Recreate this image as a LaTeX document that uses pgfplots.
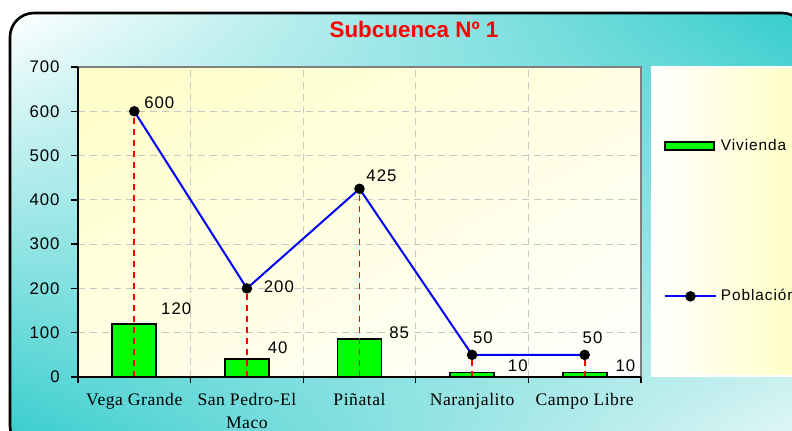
\documentclass[border=0pt]{standalone}
\usepackage{fontspec}
\setmainfont{Liberation Sans}
\newfontfamily\lsans[LetterSpace=6]{Liberation Sans}
\newfontfamily\lserif[LetterSpace=3]{Liberation Serif}
\usepackage{pgfplots}
\usepackage{pgfplotstable}
\usetikzlibrary{shadings}
\pgfplotsset{compat=1.18}

\definecolor{teal1}{HTML}{33CCCC}
\definecolor{tealpale}{HTML}{EAF8F8}
\definecolor{yelA}{HTML}{FFFFC8}
\definecolor{yelB}{HTML}{FFFFE4}
\definecolor{yelL}{HTML}{FFFFC0}
\definecolor{gridgray}{HTML}{C8C8C8}
\definecolor{dropred}{HTML}{FF0000}

\pgfplotsset{
  barlegend/.style={legend image code/.code={\draw[##1, line width=0.9pt] (0pt,-2pt) rectangle (24.5pt,2pt);}},
  linelegend/.style={legend image code/.code={\draw[mark repeat=2, mark phase=2, ##1]
    plot coordinates {(0pt,0pt) (12.75pt,0pt) (25.5pt,0pt)};}},
}

% x, Vivienda, Poblacion, label offsets (pt)
\pgfplotstableread{
x viv pop vdx vdy pdx pdy
0 120 600 13   4.5  4.5  1.5
1  40 200 10   3    8   -2
2  85 425 14.5 0.5  3    3.5
3  10  50 17.5 0.5  0    5.5
4  10  50 15   0.5 -1.5  5.5
}\datatab

\begin{document}
\begin{tikzpicture}
\useasboundingbox (0pt,0pt) rectangle (396pt,215pt);
\begin{scope}
\clip (0pt,0pt) rectangle (396pt,215pt);
\shade[rounded corners=12pt, upper left=white, upper right=teal1,
  lower left=teal1, lower right=tealpale] (5pt,208.5pt) rectangle (403pt,-10pt);
\draw[line width=1.3pt, rounded corners=12pt] (5pt,208.5pt) rectangle (403pt,-10pt);
\node[font=\bfseries\fontsize{11.2}{13}\selectfont, text=red] at (207pt,200.5pt) {Subcuenca Nº 1};

\begin{axis}[
  at={(39pt,26.5pt)}, anchor=south west,
  scale only axis, width=281.5pt, height=155pt,
  xmin=-0.5, xmax=4.5, ymin=0, ymax=700,
  xtick={0,...,4},
  xticklabels={Vega Grande,{San Pedro-El\\Maco},Piñatal,Naranjalito,Campo Libre},
  minor xtick={-0.5,0.5,...,4.5},
  ytick={0,100,...,700},
  tick pos=left,
  tick align=outside,
  major tick length=3.5pt, minor tick length=3pt,
  major x tick style={draw=none},
  tick style={black, line width=0.7pt},
  ymajorgrids, xminorgrids,
  grid style={gridgray, dash pattern=on 3.5pt off 2.5pt, line width=0.5pt},
  minor grid style={gridgray, dash pattern=on 3.5pt off 2.5pt, line width=0.5pt},
  axis line style={draw=none},
  /pgf/number format/assume math mode=true,
  yticklabel style={font=\lsans\fontsize{8.4}{10}\selectfont, inner sep=0pt, xshift=-5.5pt},
  xticklabel style={font=\lserif\fontsize{8.8}{11.5}\selectfont, align=center, inner sep=0pt, yshift=-4.3pt},
  axis background/.style={shade, upper left=yelA, upper right=yelB, lower left=yelB, lower right=white},
  legend style={at={(axis description cs:1,1)}, anchor=north west, xshift=5pt, yshift=0.5pt,
    draw=white, line width=1pt, left color=white, right color=yelL,
    inner xsep=6pt, inner ysep=34pt, row sep=64pt,
    font=\lsans\fontsize{7.7}{9}\selectfont},
  legend cell align=left,
  after end axis/.code={
    \draw[gray, line width=0.9pt] (rel axis cs:0,1) -- (rel axis cs:1,1) -- (rel axis cs:1,0);
    \draw[black, line width=1.1pt] (rel axis cs:0,1) -- (rel axis cs:0,0) -- (rel axis cs:1,0);
  },
]
\addplot[ybar, bar width=22pt, fill=green, draw=black, line width=0.9pt, barlegend,
  visualization depends on={\thisrow{vdx} \as \vdx},
  visualization depends on={\thisrow{vdy} \as \vdy},
  nodes near coords,
  every node near coord/.append style={font=\lsans\fontsize{8.4}{10}\selectfont,
    anchor=base west, inner sep=0pt, xshift=\vdx pt, yshift=\vdy pt, text=black},
] table[x=x, y=viv] {\datatab};
\addlegendentry{Vivienda}

\addplot[ycomb, draw=dropred, dash pattern=on 3pt off 2.5pt, line width=0.85pt, forget plot]
  table[x=x, y=pop] {\datatab};

\addplot[blue, line width=1pt, mark=*, mark size=2.1pt, mark options={black, fill=black, solid}, linelegend,
  visualization depends on={\thisrow{pdx} \as \pdx},
  visualization depends on={\thisrow{pdy} \as \pdy},
  nodes near coords,
  every node near coord/.append style={font=\lsans\fontsize{8.4}{10}\selectfont,
    anchor=base west, inner sep=0pt, xshift=\pdx pt, yshift=\pdy pt, text=black},
] table[x=x, y=pop] {\datatab};
\addlegendentry{Población}
\end{axis}
\end{scope}
\end{tikzpicture}
\end{document}
